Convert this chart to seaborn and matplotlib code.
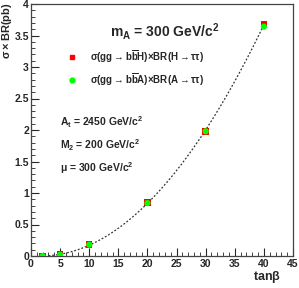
import numpy as np
import pandas as pd
import matplotlib
matplotlib.use("Agg")
import matplotlib.pyplot as plt
import seaborn as sns
from matplotlib.ticker import MultipleLocator

# values
tanb = [2, 5, 10, 20, 30, 40]
xs_H = [0.0, 0.02, 0.18, 0.85, 1.98, 3.68]
xs_A = [0.0, 0.02, 0.18, 0.84, 1.98, 3.64]

df = pd.DataFrame({"tanb": tanb + tanb,
                   "xs": xs_H + xs_A,
                   "proc": ["H"] * len(tanb) + ["A"] * len(tanb)})

sns.set_style("ticks")
plt.rcParams["font.family"] = ["Liberation Sans", "DejaVu Sans"]
plt.rcParams["font.weight"] = "bold"
plt.rcParams["mathtext.fontset"] = "custom"
plt.rcParams["mathtext.rm"] = "Liberation Sans:bold"
plt.rcParams["mathtext.it"] = "Liberation Sans:bold"
plt.rcParams["mathtext.bf"] = "Liberation Sans:bold"

fig = plt.figure(figsize=(2.99, 2.88), dpi=100)
ax = fig.add_axes([31 / 299, 1 - 256 / 288, (293 - 31) / 299, (256 - 4) / 288])

# dotted fit curve
coef = np.polyfit(tanb, xs_H, 2)
xf = np.linspace(3, 40, 100)
ax.plot(xf, np.polyval(coef, xf), color="#333333", ls=(0, (1.5, 1.5)), lw=0.9, zorder=1)

sns.scatterplot(data=df[df.proc == "H"], x="tanb", y="xs", marker="s", color="#ff0000",
                s=22, edgecolor="none", ax=ax, zorder=2)
sns.scatterplot(data=df[df.proc == "A"], x="tanb", y="xs", marker="o", color="#00ff00",
                s=20, edgecolor="none", ax=ax, zorder=3)

ax.set_xlim(0, 45)
ax.set_ylim(0, 4)
ax.xaxis.set_major_locator(MultipleLocator(5))
ax.xaxis.set_minor_locator(MultipleLocator(1))
ax.yaxis.set_major_locator(MultipleLocator(0.5))
ax.yaxis.set_minor_locator(MultipleLocator(0.1))
ax.tick_params(which="major", direction="in", length=6, width=0.8, labelsize=7.5, pad=2,
               top=False, right=False)
ax.tick_params(axis="y", which="major", pad=1.5)
ax.tick_params(which="minor", direction="in", length=3, width=0.6, top=False, right=False)
ax.set_xticklabels([f"{v:g}" for v in ax.get_xticks()], fontweight="bold")
ax.set_yticklabels([f"{v:g}" for v in ax.get_yticks()], fontweight="bold")
for s in ax.spines.values():
    s.set_color("#444444")
    s.set_linewidth(0.9)

ax.set_xlabel("")
ax.set_ylabel("")
fig.text(0.94, 0.012, r"tan$\beta$", ha="right", va="bottom", fontsize=9, fontweight="bold")
fig.text(0.0, 0.99, r"$\sigma\times$BR(pb)", ha="left", va="top", rotation=90,
         fontsize=8, fontweight="bold")

ax.text(0.30, 0.89, r"m$_\mathregular{A}$ = 300 GeV/c$^\mathregular{2}$", transform=ax.transAxes,
        fontsize=10, fontweight="bold", ha="left", va="center")
ax.plot([0.157], [0.791], marker="s", color="#ff0000", ms=3.5, transform=ax.transAxes, clip_on=False)
ax.plot([0.157], [0.70], marker="o", color="#00ff00", ms=3.5, transform=ax.transAxes, clip_on=False)
ax.text(0.225, 0.791,
        r"$\sigma$(gg$\rightarrow$b$\overline{\mathregular{b}}$H)$\times$BR(H$\rightarrow\tau\tau$)",
        transform=ax.transAxes, fontsize=7, ha="left", va="center")
ax.text(0.225, 0.70,
        r"$\sigma$(gg$\rightarrow$b$\overline{\mathregular{b}}$A)$\times$BR(A$\rightarrow\tau\tau$)",
        transform=ax.transAxes, fontsize=7, ha="left", va="center")
ax.text(0.11, 0.53, r"A$_\mathregular{t}$ = 2450 GeV/c$^\mathregular{2}$", transform=ax.transAxes,
        fontsize=7.5, ha="left", va="center")
ax.text(0.11, 0.44, r"M$_\mathregular{2}$ = 200 GeV/c$^\mathregular{2}$", transform=ax.transAxes,
        fontsize=7.5, ha="left", va="center")
ax.text(0.11, 0.35, r"$\mu$ = 300 GeV/c$^\mathregular{2}$", transform=ax.transAxes,
        fontsize=7.5, ha="left", va="center")

fig.savefig("out.png", dpi=100)
